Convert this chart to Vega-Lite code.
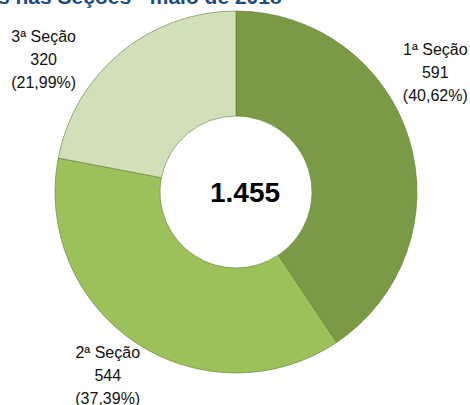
{
  "$schema": "https://vega.github.io/schema/vega-lite/v6.json",
  "width": 468,
  "height": 384,
  "autosize": {"type": "none"},
  "padding": {"left": 2, "top": 0, "right": 0, "bottom": 21},
  "background": "white",
  "config": {
    "view": {"stroke": null},
    "locale": {"number": {"decimal": ",", "thousands": ".", "grouping": [3], "currency": ["R$", ""]}}
  },
  "title": {
    "text": "s nas Seções - maio de 2018",
    "anchor": "start",
    "frame": "group",
    "font": "Liberation Sans",
    "fontSize": 21,
    "fontWeight": "bold",
    "color": "#1F4B7F",
    "baseline": "alphabetic",
    "offset": -17,
    "dy": 8,
    "dx": -4
  },
  "data": {
    "values": [
      {"secao": "1ª Seção", "valor": 591, "pct": 40.62, "ordem": 1},
      {"secao": "2ª Seção", "valor": 544, "pct": 37.39, "ordem": 2},
      {"secao": "3ª Seção", "valor": 320, "pct": 21.99, "ordem": 3}
    ]
  },
  "transform": [
    {"calculate": "[datum.secao, format(datum.valor, ',d'), '(' + format(datum.pct, '.2f') + '%)']", "as": "rotulo"},
    {"stack": "valor", "groupby": [], "sort": [{"field": "ordem", "order": "ascending"}], "as": ["v0", "v1"]},
    {"calculate": "(datum.v0 + datum.v1) / 2", "as": "vmeio"}
  ],
  "layer": [
    {
      "mark": {"type": "arc", "outerRadius": 181, "innerRadius": 76, "stroke": "#5f7a33", "strokeWidth": 0.6},
      "encoding": {
        "theta": {"field": "v0", "type": "quantitative", "scale": {"domain": [0, 1455]}},
        "theta2": {"field": "v1"},
        "color": {
          "field": "secao",
          "type": "nominal",
          "scale": {"domain": ["1ª Seção", "2ª Seção", "3ª Seção"], "range": ["#7A9A45", "#9DC15A", "#D2E0BA"]},
          "legend": null
        }
      }
    },
    {
      "transform": [{"filter": "datum.ordem == 1"}],
      "mark": {"type": "text", "radius": 225, "dx": -16, "dy": -77, "font": "Liberation Sans", "fontSize": 16, "lineHeight": 23, "baseline": "middle", "align": "center", "color": "#111111"},
      "encoding": {
        "theta": {"field": "vmeio", "type": "quantitative", "stack": null, "scale": {"domain": [0, 1455]}},
        "text": {"field": "rotulo"}
      }
    },
    {
      "transform": [{"filter": "datum.ordem == 2"}],
      "mark": {"type": "text", "radius": 225, "dx": -4, "dy": -27, "font": "Liberation Sans", "fontSize": 16, "lineHeight": 23, "baseline": "middle", "align": "center", "color": "#111111"},
      "encoding": {
        "theta": {"field": "vmeio", "type": "quantitative", "stack": null, "scale": {"domain": [0, 1455]}},
        "text": {"field": "rotulo"}
      }
    },
    {
      "transform": [{"filter": "datum.ordem == 3"}],
      "mark": {"type": "text", "radius": 225, "dx": -49, "dy": 18, "font": "Liberation Sans", "fontSize": 16, "lineHeight": 23, "baseline": "middle", "align": "center", "color": "#111111"},
      "encoding": {
        "theta": {"field": "vmeio", "type": "quantitative", "stack": null, "scale": {"domain": [0, 1455]}},
        "text": {"field": "rotulo"}
      }
    },
    {
      "transform": [{"aggregate": [{"op": "sum", "field": "valor", "as": "total"}]}],
      "mark": {"type": "text", "font": "Liberation Sans", "fontSize": 28, "fontWeight": "bold", "color": "#000000", "align": "center", "baseline": "middle", "dx": 9, "dy": 2},
      "encoding": {
        "text": {"field": "total", "type": "quantitative", "format": ",d"}
      }
    }
  ]
}
